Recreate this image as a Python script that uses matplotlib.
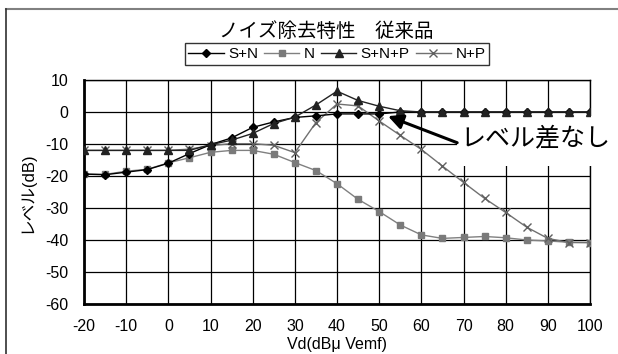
import matplotlib
matplotlib.use("Agg")
import matplotlib.pyplot as plt
from matplotlib.patches import Rectangle
from matplotlib.lines import Line2D

plt.rcParams['font.family'] = ['Liberation Sans', 'Noto Sans CJK JP', 'DejaVu Sans']
plt.rcParams['axes.unicode_minus'] = False

vd = [-20, -15, -10, -5, 0, 5, 10, 15, 20, 25, 30, 35, 40, 45, 50, 55, 60,
      65, 70, 75, 80, 85, 90, 95, 100]
s_n = [-19.4, -19.6, -18.8, -18.0, -16.0, -13.0, -10.2, -8.1, -4.8, -3.1, -1.7, -1.2,
       -0.6, -0.6, -0.6, 0, 0, 0, 0, 0, 0, 0, 0, 0, 0]
n = [-19.4, -19.5, -18.5, -17.9, -15.9, -14.3, -12.6, -12.0, -12.0, -13.2, -15.8, -18.3,
     -22.4, -27.3, -31.1, -35.3, -38.4, -39.5, -39.2, -38.9, -39.3, -40.0, -40.3, -40.7, -40.8]
s_n_p = [-12.0, -12.0, -12.0, -12.0, -12.0, -12.0, -10.2, -8.8, -6.7, -3.6, -1.6, 2.2,
         6.5, 3.6, 1.8, 0.4, 0, 0, 0, 0, 0, 0, 0, 0, 0]
n_p = [-12.0, -12.0, -12.0, -12.0, -12.0, -11.6, -10.5, -9.9, -9.9, -10.4, -12.7, -3.3,
       2.5, 1.9, -2.8, -7.3, -11.7, -16.9, -22.0, -27.0, -31.4, -36.0, -39.5, -40.8, -40.8]

xticks = list(range(-20, 101, 10))
yticks = list(range(-60, 11, 10))

fig = plt.figure(figsize=(6.18, 3.54), dpi=100)
ax = fig.add_axes([84 / 618, 1 - 304 / 354, (590 - 84) / 618, (304 - 80) / 354])

ax.plot(vd, s_n, color='black', lw=1, marker='D', ms=4.5, mfc='black', mec='black',
        label='S+N', zorder=4)
ax.plot(vd, n, color='#808080', lw=1, marker='s', ms=5, mfc='#7a7a7a', mec='#7a7a7a',
        label='N', zorder=3)
ax.plot(vd, s_n_p, color='#222222', lw=1, marker='^', ms=6, mfc='#222222', mec='#222222',
        label='S+N+P', zorder=4)
ax.plot(vd, n_p, color='#707070', lw=1, marker='x', ms=6, mew=1, mec='#606060',
        label='N+P', zorder=3)

ax.set_xlim(-20, 100)
ax.set_ylim(-60, 10)
ax.set_xticks(xticks)
ax.set_yticks(yticks)
ax.tick_params(labelsize=11.5, length=0)
ax.tick_params(axis='x', pad=11)
ax.tick_params(axis='y', pad=11)
ax.set_axisbelow(True)
ax.grid(True, color='black', lw=0.9)
for side in ['left', 'bottom']:
    ax.spines[side].set_linewidth(2)
for side in ['top', 'right']:
    ax.spines[side].set_linewidth(1)

ax.set_xlabel('Vd(dBμ Vemf)', fontsize=11.5, labelpad=2)
ax.set_ylabel('レベル(dB)', fontsize=12, labelpad=8)

fig.text(326 / 618, 1 - 32 / 354, 'ノイズ除去特性　従来品', fontsize=14,
         ha='center', va='center')
leg = ax.legend(loc='center', bbox_to_anchor=(337 / 618, 1 - 54 / 354),
                bbox_transform=fig.transFigure, ncol=4, frameon=True, fancybox=False,
                edgecolor='black', fontsize=11, handlelength=2.3, handletextpad=0.3,
                columnspacing=0.4, borderpad=0.25, borderaxespad=0)
leg.get_frame().set_linewidth(1)

# white box behind the callout text (hides the grid there)
box = Rectangle((457 / 618, 1 - 166 / 354), (618 - 457) / 618, 50 / 354,
                transform=fig.transFigure, fc='white', ec='none', zorder=2.6, clip_on=False)
ax.add_patch(box)
ax.annotate('', xy=(52.1, -1.3), xytext=(68.5, -9.6),
            arrowprops=dict(arrowstyle='-|>', color='black', lw=2.2, mutation_scale=22,
                            shrinkA=0, shrinkB=0), zorder=5, annotation_clip=False)
ax.text(460 / 618, 1 - 138 / 354, 'レベル差なし', fontsize=18, ha='left', va='center',
        transform=fig.transFigure, zorder=6)

# outer frame (top and left only)
fig.add_artist(Line2D([6 / 618, 1], [1 - 9 / 354, 1 - 9 / 354], transform=fig.transFigure,
                      color='#808080', lw=1.5))
fig.add_artist(Line2D([6 / 618, 6 / 618], [0, 1 - 9 / 354], transform=fig.transFigure,
                      color='#303030', lw=1.2))

fig.savefig('out.png', dpi=100)
